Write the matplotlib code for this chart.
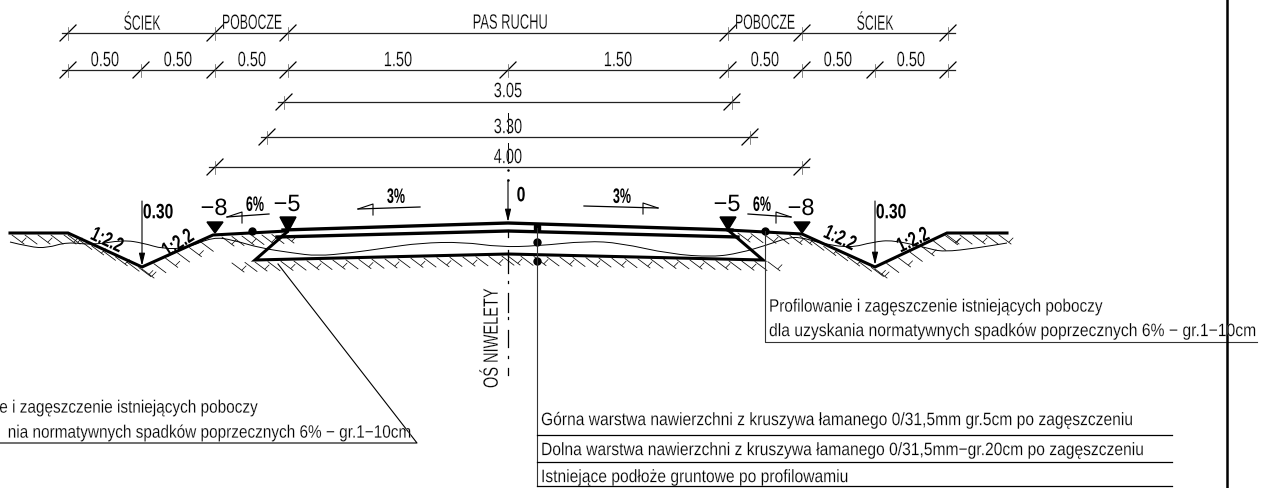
import numpy as np
import matplotlib.pyplot as plt
import matplotlib.patheffects as pe
from matplotlib.path import Path
from matplotlib.patches import PathPatch
from matplotlib.transforms import Affine2D

plt.rcParams['font.family'] = ['Liberation Sans', 'DejaVu Sans']

# Profil drogi, wspolrzedne (piksele)
left_ground_x = [10, 68, 142, 213, 287]
left_ground_y = [233, 233, 267, 235, 231]
right_ground_x = [728, 802, 875, 947, 1007]
right_ground_y = [230, 234, 267, 233, 233]
road_top_x = [283, 508, 732]
road_top_y = [230, 223, 230]
layer_x = [277, 508, 738]
layer_y = [237, 231, 237]
base_x = [287, 255, 508, 763, 728]
base_y = [232, 260, 254, 260, 230]
old_ground_x = [10, 30, 47, 67, 93, 123, 143, 163, 187, 213, 233, 260, 293, 317, 350, 385, 420, 463, 500, 537,
                587, 620, 670, 713, 740, 767, 787, 800, 820, 850, 873, 893, 927, 943, 977, 1007]
old_ground_y = [242, 247, 248, 242, 245, 240, 243, 249, 248, 237, 240, 248, 253, 256, 253, 248, 243, 242, 247, 246,
                241, 243, 254, 257, 253, 245, 238, 237, 243, 248, 242, 240, 248, 252, 248, 243]

# Wymiary
dim_rows = [33, 70, 102, 137, 167]
dim_ticks = [[68, 215, 288, 728, 802, 948],
             [68, 141, 215, 288, 508, 728, 802, 875, 948],
             [284, 732],
             [267, 750],
             [215, 802]]
top_labels = ['ŚCIEK', 'POBOCZE', 'PAS RUCHU', 'POBOCZE', 'ŚCIEK']
top_labels_x = [142, 252, 510, 765, 875]
width_labels = ['0.50', '0.50', '0.50', '1.50', '1.50', '0.50', '0.50', '0.50']
width_labels_x = [105, 178, 252, 398, 618, 765, 838, 911]
total_labels = ['3.05', '3.30', '4.00']
total_labels_y = [91, 127, 157]

# Os niwelety
axis_dash_start = [230, 250, 281, 293, 317, 330, 356, 368]
axis_dash_end = [237, 273, 283, 312, 319, 347, 358, 375]

# Rzedne i spadki
marker_x = [215, 288, 728, 802]
marker_y = [233, 232, 230, 233]
marker_top = [222, 217, 217, 222]
marker_text = ['−8', '−5', '−5', '−8']
marker_text_y = [209, 205, 205, 209]
slope_labels = ['6%', '3%', '3%', '6%']
slope_labels_x = [255, 396, 622, 762]
slope_labels_y = [205, 197, 197, 205]
slope_x0 = [227, 358, 658, 791]
slope_y0 = [217, 209, 208, 217]
slope_x1 = [269, 420, 584, 748]
slope_y1 = [214, 207, 206, 214]
ratio_x = [107, 178, 840, 913]
ratio_y = [240, 243, 238, 240]
ratio_rot = [-25, 33, -25, 25]

line1 = 'Profilowanie i zagęszczenie istniejących poboczy'
line2 = 'dla uzyskania normatywnych spadków poprzecznych 6% − gr.1−10cm'
line1_cut = 'e i zagęszczenie istniejących poboczy'
line2_cut = 'nia normatywnych spadków poprzecznych 6% − gr.1−10cm'
layer_notes = ['Górna warstwa nawierzchni z kruszywa łamanego 0/31,5mm gr.5cm po zagęszczeniu',
               'Dolna warstwa nawierzchni z kruszywa łamanego 0/31,5mm−gr.20cm po zagęszczeniu',
               'Istniejące podłoże gruntowe po profilowamiu']
layer_notes_y = [420, 450, 477]
layer_rules_y = [435, 462, 486]


class Tall(pe.AbstractPathEffect):
    # wydluza napis w pionie, czcionka CAD jest waska i cienka
    def __init__(self, k, thin=0.0):
        super().__init__()
        self.k = k
        self.thin = thin

    def draw_path(self, renderer, gc, tpath, affine, rgbFace=None):
        ext = tpath.get_extents()
        y0 = ext.y0 + ext.height / 2
        st = Affine2D().translate(0, -y0).scale(1, 1 / self.k).translate(0, y0)
        gc0 = renderer.new_gc()
        gc0.copy_properties(gc)
        if self.thin > 0:
            gc0.set_linewidth(self.thin)
            gc0.set_foreground('white')
        renderer.draw_path(gc0, tpath, st + affine, rgbFace)
        gc0.restore()


def cad_text(ax, x, y, s, size, k, ha='center', thin=0.15, **kw):
    # size to wysokosc docelowa, k to zwezenie
    t = ax.text(x, y, s, fontsize=size * k, ha=ha, va='center', **kw)
    t.set_path_effects([Tall(k, thin)])
    return t


def hatch(ax, xs, ys, step=13):
    # kreskowanie gruntu pod linia
    for i in range(len(xs) - 1):
        seg = np.hypot(xs[i + 1] - xs[i], ys[i + 1] - ys[i])
        for n, s in enumerate(np.arange(0, seg, step)):
            x = xs[i] + (xs[i + 1] - xs[i]) * s / seg
            y = ys[i] + (ys[i + 1] - ys[i]) * s / seg
            ax.plot([x, x + 12], [y + 1, y + 10], color='k', lw=0.55)
            if n % 2 == 0:
                ax.plot([x + 14, x + 10], [y + 4, y + 8], color='k', lw=0.5)


def smooth_line(xs, ys):
    # gladka krzywa przez punkty kontrolne
    verts = [(xs[0], ys[0])]
    codes = [Path.MOVETO]
    for i in range(1, len(xs) - 1):
        verts += [(xs[i], ys[i]), ((xs[i] + xs[i + 1]) / 2, (ys[i] + ys[i + 1]) / 2)]
        codes += [Path.CURVE3, Path.CURVE3]
    verts.append((xs[-1], ys[-1]))
    codes.append(Path.LINETO)
    return Path(verts, codes)


fig = plt.figure(figsize=(12.7, 4.88), dpi=100)
ax = fig.add_axes([0, 0, 1, 1])
ax.set_xlim(0, 1270)
ax.set_ylim(488, 0)
ax.axis('off')

# hatching
hatch(ax, [12, 68, 142, 213], [234, 234, 268, 236])
hatch(ax, [222, 282], [236, 233], step=10)
hatch(ax, [232, 255, 508, 778], [262, 261, 255, 261])
hatch(ax, [738, 800, 875, 947, 1000], [232, 235, 268, 234, 234])

# profil
ax.add_patch(PathPatch(smooth_line(old_ground_x, old_ground_y), fill=False, color='k', lw=0.7))
ax.plot(left_ground_x, left_ground_y, color='k', lw=2.2, solid_joinstyle='miter')
ax.plot(right_ground_x, right_ground_y, color='k', lw=2.2, solid_joinstyle='miter')
ax.plot(road_top_x, road_top_y, color='k', lw=2.4)
ax.plot(layer_x, layer_y, color='k', lw=2.4)
ax.plot(base_x, base_y, color='k', lw=2.2, solid_joinstyle='miter')
ax.plot([537, 537, 252, 765], [242, 261, 231, 231], 'o', color='k', ms=5)
ax.plot([537], [228], 's', color='k', ms=4)

# wymiary
for row, ticks in zip(dim_rows, dim_ticks):
    ax.plot([ticks[0] - 6, ticks[-1] + 7], [row, row], color='#222222', lw=0.9)
    for t in ticks:
        ax.plot([t - 8, t + 8], [row + 8, row - 8], color='k', lw=0.9)
        ax.plot([t, t], [row - 6, row + 7], color='#555555', lw=0.5)
for label, x in zip(top_labels, top_labels_x):
    k = 0.62 if label == 'PAS RUCHU' else 0.59
    cad_text(ax, x, 23, label, 15, k)
for label, x in zip(width_labels, width_labels_x):
    cad_text(ax, x, 60, label, 15, 0.7)
for label, y in zip(total_labels, total_labels_y):
    cad_text(ax, 508, y, label, 15, 0.7)
ax.plot([508, 508], [113, 133], color='k', lw=0.7)
ax.plot([508, 508], [143, 163], color='k', lw=0.7)
ax.plot([508, 508], [170, 180], 'o', color='k', ms=0.8)

# os niwelety
for y0, y1 in zip(axis_dash_start, axis_dash_end):
    ax.plot([508, 508], [y0, y1], color='k', lw=0.9)
cad_text(ax, 491, 338, 'OŚ NIWELETY', 15, 0.7, rotation=90)

# strzalki
for x, y0, y1 in [(142, 201, 266), (875, 201, 265), (508, 180, 222)]:
    ax.annotate('', xy=(x, y1), xytext=(x, y0),
                arrowprops=dict(arrowstyle='-|>,head_width=0.18,head_length=0.75', color='k', lw=0.8,
                                shrinkA=0, shrinkB=0))
cad_text(ax, 158, 212, '0.30', 15, 0.75, thin=0, fontweight='bold')
cad_text(ax, 891, 212, '0.30', 15, 0.75, thin=0, fontweight='bold')
cad_text(ax, 521, 195, '0', 15, 0.75, thin=0, fontweight='bold')

# znaczniki rzednych
for x, y, top, label, ty in zip(marker_x, marker_y, marker_top, marker_text, marker_text_y):
    ax.fill([x - 8, x + 8, x], [top, top, y], color='k')
    cad_text(ax, x - 1, ty, label, 17, 1.0, thin=0)

# spadki
for x0, y0, x1, y1 in zip(slope_x0, slope_y0, slope_x1, slope_y1):
    d = 15 if x1 > x0 else -15
    ax.plot([x0, x1], [y0, y1], color='k', lw=0.9)
    ax.plot([x0, x0 + d, x0 + d], [y0, y0 - 5, y0 + 6], color='k', lw=0.8)
for label, x, y in zip(slope_labels, slope_labels_x, slope_labels_y):
    cad_text(ax, x, y, label, 15, 0.6, thin=0, fontweight='bold')
for x, y, r in zip(ratio_x, ratio_y, ratio_rot):
    cad_text(ax, x, y, '1:2.2', 15, 0.7, thin=0, rotation=r, fontweight='bold')

# opisy
ax.plot([765, 765, 1257], [231, 342, 342], color='#333333', lw=0.8)
cad_text(ax, 769, 307, line1, 13, 0.85, ha='left')
cad_text(ax, 769, 331, line2, 13, 0.87, ha='left')

ax.plot([278, 417, 0], [264, 443, 443], color='k', lw=0.8)
cad_text(ax, 258, 408, line1_cut, 13, 0.85, ha='right')
cad_text(ax, 412, 433, line2_cut, 13, 0.85, ha='right')

ax.plot([537, 537], [228, 486], color='#333333', lw=0.8)
for note, y in zip(layer_notes, layer_notes_y):
    cad_text(ax, 541, y, note, 13, 0.865, ha='left')
for y in layer_rules_y:
    ax.plot([537, 1172], [y, y], color='k', lw=0.9)

# ramka
ax.plot([1227, 1227], [0, 488], color='k', lw=1.8)

fig.savefig('out.png', dpi=100)
